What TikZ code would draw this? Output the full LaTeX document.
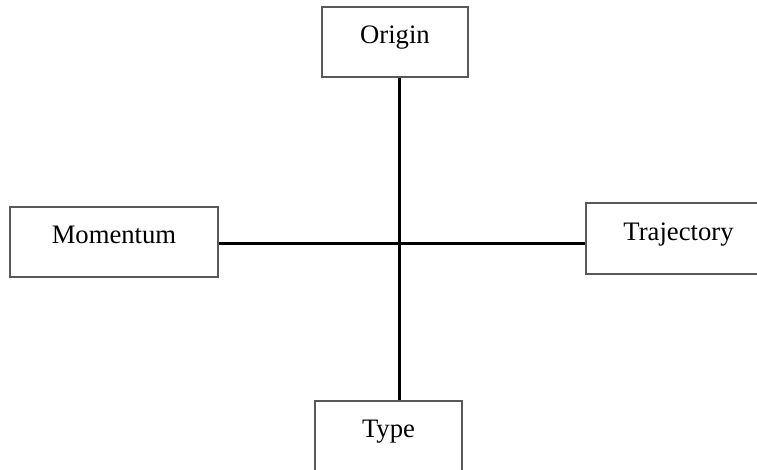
\documentclass[tikz,border=0pt]{standalone}
\usepackage{fontspec}
\setmainfont{Liberation Serif}
\usepackage{tikz}

\begin{document}
\begin{tikzpicture}[x=0.75pt,y=-0.75pt,
    box/.style={draw=black!65,line width=0.8pt,minimum height=52.5pt,
      text height=0.68em,text depth=0.42em,inner sep=0pt,
      font=\fontsize{20}{24}\selectfont},
    link/.style={line width=2.25pt}]
    \useasboundingbox (0,0) rectangle (757,469);
    \clip (0,0) rectangle (757,469);

    \node[box,minimum width=109.5pt] (origin) at (395,42) {Origin};
    \node[box,minimum width=156pt] (momentum) at (114,242) {Momentum};
    \node[box,minimum width=138.75pt,minimum height=53.25pt] (trajectory) at (678.5,238.5) {Trajectory};
    \node[box,minimum width=110.25pt] (type) at (388.5,436) {Type};

    \coordinate (hub) at (399,243);
    \draw[link] (hub |- origin.south) -- (hub |- type.north);
    \draw[link] (momentum.east |- hub) -- (trajectory.west |- hub);
  \end{tikzpicture}
\end{document}
